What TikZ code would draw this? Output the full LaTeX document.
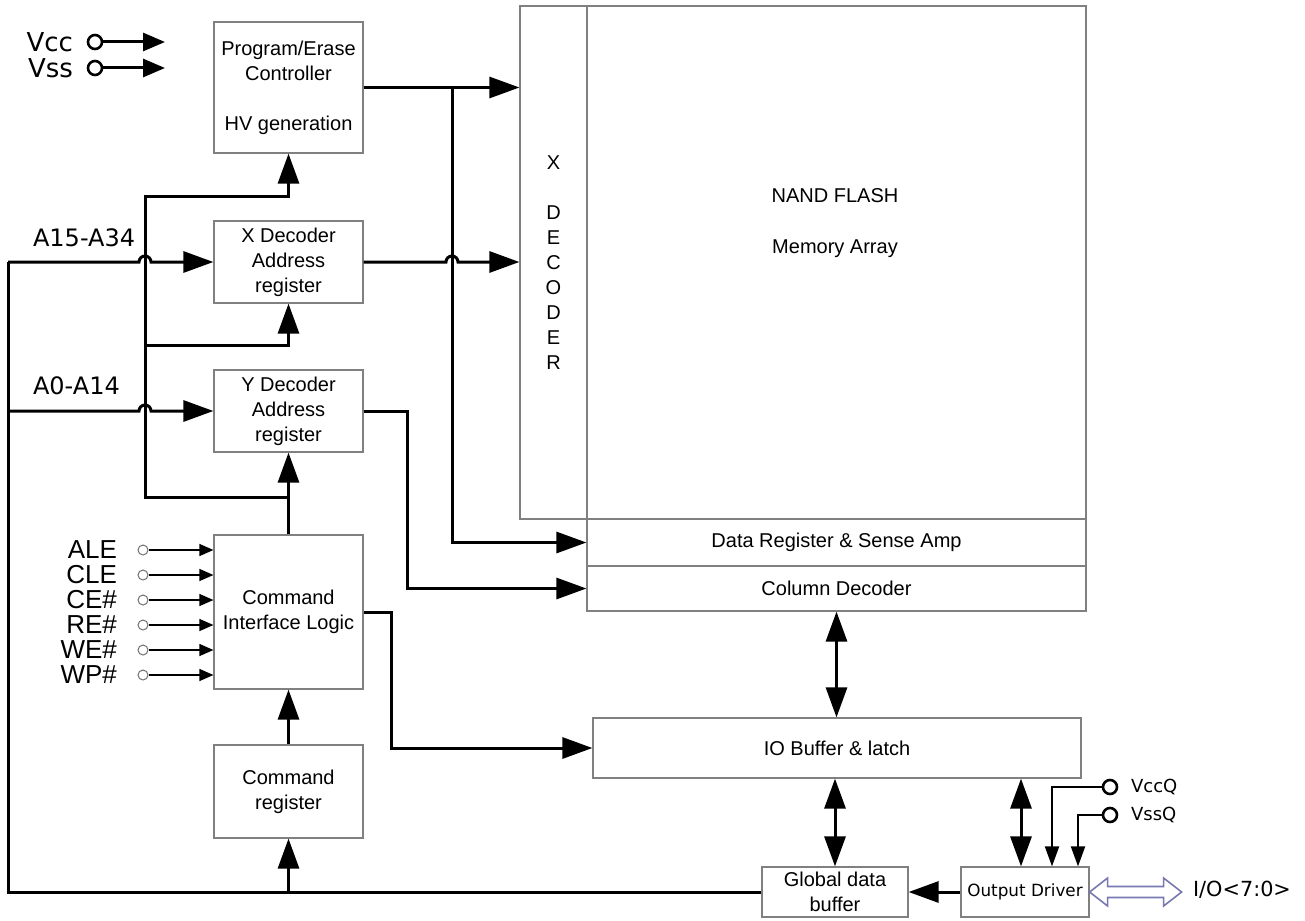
\documentclass[tikz,border=0pt]{standalone}
\usepackage{fontspec}
\setmainfont{Liberation Sans}
\newfontfamily\tahoma{DejaVu Sans}
\usetikzlibrary{arrows.meta,calc}
\newcommand{\Unit}{0.5pt}
\newcommand{\Bus}{1.5pt}
\definecolor{frame}{HTML}{808080}
\definecolor{ioline}{HTML}{7878B0}
\definecolor{pinrim}{HTML}{707070}

\tikzset{
  blk/.style={draw=frame, line width=0.6pt, inner sep=0pt, align=center,
    font=\fontsize{10}{12.5}\selectfont},
  bus/.style={line width=\Bus},
  wire/.style={line width=0.6pt, -{Triangle[length=7pt,width=6pt]}},
  qwire/.style={line width=1pt, -{Triangle[length=10pt,width=7pt]}},
  vpin/.style={circle, draw, line width=1.3pt, minimum size=7pt, inner sep=0pt},
  spin/.style={circle, draw=pinrim, line width=0.5pt, minimum size=5pt, inner sep=0pt},
  pinname/.style={font=\tahoma\fontsize{12}{14}\selectfont},
  ioarrow/.style={draw=ioline, line width=0.8pt, line join=miter},
}

\begin{document}
\begin{tikzpicture}[x=\Unit,y=-\Unit, >={Triangle[length=15pt,width=10.5pt]}]
\useasboundingbox (0,0) rectangle (1305,920);

% ---- control blocks ------------------------------------------------------
\node[blk,minimum width=74.5pt,minimum height=65.5pt] (pe) at (288.5,87.5)
  {Program/Erase\\Controller\\[12.5pt]HV generation};
\node[blk,minimum width=74.5pt,minimum height=41pt] (xreg) at (288.5,262)
  {X Decoder\\Address\\register};
\node[blk,minimum width=74.5pt,minimum height=41pt] (yreg) at (288.5,411)
  {Y Decoder\\Address\\register};
\node[blk,minimum width=74.5pt,minimum height=77pt] (cil) at (288.5,612)
  {Command\\Interface Logic};
\node[blk,minimum width=74.5pt,minimum height=46.5pt] (creg) at (288.5,791.5)
  {Command\\register};

% ---- memory array --------------------------------------------------------
\node[blk,minimum width=283pt,minimum height=256.5pt] (arr) at (803,262.5) {};
\node[blk,minimum width=33.5pt,minimum height=256.5pt] (xdec) at (553.5,262.5)
  {X\\[12.5pt]D\\E\\C\\O\\D\\E\\R};
\node[align=center,font=\fontsize{10}{12.5}\selectfont] (arrtitle) at (835,223.5)
  {NAND FLASH\\[13pt]Memory Array};
\node[blk,minimum width=249.5pt,minimum height=23.5pt] (dreg) at (836.5,542.5)
  {Data Register \& Sense Amp};
\node[blk,minimum width=249.5pt,minimum height=22.5pt] (coldec) at (836.5,588.5)
  {Column Decoder};

% ---- data path -----------------------------------------------------------
\node[blk,minimum width=244pt,minimum height=30pt] (iobuf) at (837,748)
  {IO Buffer \& latch};
\node[blk,minimum width=73pt,minimum height=25pt] (gbuf) at (835,892)
  {Global data\\buffer};
\node[blk,minimum width=64pt,minimum height=25pt,font=\tahoma\fontsize{8.4}{10}\selectfont]
  (odrv) at (1025,892) {Output Driver};

% ---- supply pins ---------------------------------------------------------
\foreach \lbl/\yy in {Vcc/42, Vss/68} {
  \node[vpin] (\lbl) at (95,\yy) {};
  \node[pinname,anchor=east,font=\tahoma\fontsize{13}{15}\selectfont] (\lbl-name) at (80,\yy) {\lbl};
  \coordinate (\lbl-end) at (165,\yy);
  \draw[bus,-{Triangle[length=11pt,width=9pt]}] (\lbl) -- (\lbl-end);
}
\node[vpin] (vccq) at (1110,787) {};
\node[vpin] (vssq) at (1110,815) {};
\node[font=\tahoma\fontsize{9}{11}\selectfont,anchor=west] (vccq-name) at (1124,787) {VccQ};
\node[font=\tahoma\fontsize{9}{11}\selectfont,anchor=west] (vssq-name) at (1124,815) {VssQ};
\draw[qwire] (vccq) -| ([xshift=13.5pt]odrv.north);
\draw[qwire] (vssq) -| ([xshift=26.5pt]odrv.north);

% ---- control inputs ------------------------------------------------------
\foreach \sig [count=\i] in {ALE,CLE,CE\#,RE\#,WE\#,WP\#} {
  \pgfmathsetmacro\yy{525+25*\i}
  \node[spin] (s\i) at (143,\yy) {};
  \node[anchor=east,font=\fontsize{13}{15}\selectfont] (s\i-name) at (124,\yy) {\sig};
  \draw[wire] (s\i) -- (s\i -| cil.west);
}

% ---- address and control buses -------------------------------------------
\coordinate (lbus) at (8,262);
\coordinate (cbus) at (145,196);
\coordinate (cmid) at (145,345);
\coordinate (cbend) at (145,497);
\coordinate (tap) at (452,87.5);

\draw[bus] (gbuf.west) -| (lbus);
\draw[bus,->] (lbus) -- ($(cbus |- lbus)+(-6,0)$)
  arc[start angle=180,end angle=360,radius=6] -- (xreg.west);
\draw[bus,->] (lbus |- yreg.west) -- ($(cbus |- yreg.west)+(-6,0)$)
  arc[start angle=180,end angle=360,radius=6] -- (yreg.west);
\node[pinname,anchor=south west] (a-hi) at (26,254) {A15-A34};
\node[pinname,anchor=south west] (a-lo) at (26,402) {A0-A14};

\draw[bus,->] (creg.south |- gbuf.west) -- (creg.south);
\draw[bus,->] (creg.north) -- (cil.south);
\draw[bus,->] (cil.north) -- (yreg.south);
\draw[bus,->] (cil.north |- cbend) -- (cbend) -- (cbus) -| (pe.south);
\draw[bus,->] (cmid) -| (xreg.south);

% ---- into the array ------------------------------------------------------
\draw[bus,->] (pe.east) -- (pe.east -| xdec.west);
\draw[bus,->] (tap) |- (dreg.west);
\draw[bus,->] (xreg.east) -- ($(tap |- xreg.east)+(-6,0)$)
  arc[start angle=180,end angle=360,radius=6] -- (xreg.east -| xdec.west);
\draw[bus,->] (yreg.east) -- ++(44,0) |- (coldec.west);
\draw[bus,->] (cil.east) -- ++(28,0) |- (iobuf.west);

% ---- data path connectors ------------------------------------------------
\draw[bus,<->] (coldec.south) -- (coldec.south |- iobuf.north);
\draw[bus,<->] (iobuf.south -| gbuf.north) -- (gbuf.north);
\draw[bus,<->] ([xshift=-2pt]odrv.north |- iobuf.south) -- ([xshift=-2pt]odrv.north);
\draw[bus,->] (odrv.west) -- (gbuf.east);

% I/O pins
\node[anchor=west,font=\tahoma\fontsize{10.4}{12}\selectfont] (iolbl) at (1186,890) {I/O<7:0>};
\draw[ioarrow] (odrv.east) -- ++(18,-14) -- ++(0,8.5) -- ++(56,0) -- ++(0,-8.5)
  -- ++(18,14) -- ++(-18,14) -- ++(0,-8.5) -- ++(-56,0) -- ++(0,8.5) -- cycle;

\end{tikzpicture}
\end{document}
